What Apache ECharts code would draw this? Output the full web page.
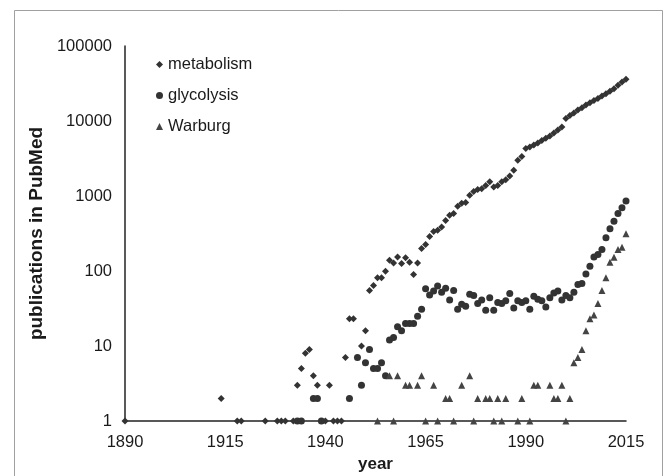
<!DOCTYPE html>
<html>
<head>
<meta charset="utf-8">
<script src="https://cdn.jsdelivr.net/npm/echarts@6/dist/echarts.min.js"></script>
<style>
html,body{margin:0;padding:0;background:#fff;}
#chart{width:663px;height:476px;}
</style>
</head>
<body>
<div id="chart"></div>
<script>
// ---- data ----
const metabolismYears = [1890,1914,1918,1919,1925,1928,1929,1930,1932,1933,1934,1935,1936,1937,1938,1940,1941,1942,1943,1944,1945,1946,1947,1949,1950,
  1951,1952,1953,1954,1955,1956,1957,1958,1959,1960,1961,1962,1963,1964,1965,1966,1967,1968,1969,1970,
  1971,1972,1973,1974,1975,1976,1977,1978,1979,1980,1981,1982,1983,1984,1985,1986,1987,1988,1989,1990,
  1991,1992,1993,1994,1995,1996,1997,1998,1999,2000,2001,2002,2003,2004,2005,2006,2007,2008,2009,2010,
  2011,2012,2013,2014,2015];
const metabolismValues = [1,2,1,1,1,1,1,1,1,3,5,8,9,4,3,1,3,1,1,1,7,23,23,10,16,
  55,64,81,81,99,139,128,154,126,150,131,90,128,199,225,288,335,350,385,470,
  555,585,730,800,820,1020,1150,1220,1250,1380,1550,1320,1380,1550,1650,1850,2200,3000,3350,4300,
  4500,4800,5100,5500,5900,6300,6900,7600,8300,10800,11800,12800,14000,15000,16300,17500,18700,20000,21500,23000,
  25000,27000,30000,33000,36000];

const glycolysisYears = [1933,1934,1937,1938,1939,1946,1948,1949,1950,
  1951,1952,1953,1954,1955,1956,1957,1958,1959,1960,1961,1962,1963,1964,1965,1966,1967,1968,1969,1970,
  1971,1972,1973,1974,1975,1976,1977,1978,1979,1980,1981,1982,1983,1984,1985,1986,1987,1988,1989,1990,
  1991,1992,1993,1994,1995,1996,1997,1998,1999,2000,2001,2002,2003,2004,2005,2006,2007,2008,2009,2010,
  2011,2012,2013,2014,2015];
const glycolysisValues = [1,1,2,2,1,2,7,3,6,
  9,5,5,6,4,12,13,18,16,20,20,20,25,31,58,48,54,63,52,59,
  41,55,31,36,34,49,47,37,41,30,44,30,38,37,40,50,32,40,38,40,
  31,46,42,40,33,44,51,54,41,47,44,52,66,68,91,116,154,166,193,277,
  365,462,585,697,855];

const warburgYears = [1953,1956,1957,1958,1960,1961,1963,1964,1965,1967,1968,1970,1971,1972,1974,1976,1977,1978,1980,1981,
  1982,1983,1984,1985,1988,1989,1991,1992,1993,1996,1997,1998,1999,2000,2001,2002,2003,2004,2005,2006,
  2007,2008,2009,2010,2011,2012,2013,2014,2015];
const warburgValues = [1,4,1,4,3,3,3,4,1,3,1,2,2,1,3,4,1,2,2,2,
  1,2,1,2,1,2,1,3,3,3,2,2,3,1,2,6,7,9,16,23,
  26,37,55,81,131,152,193,207,313];

const xTicksMin = 1890, xTicksMax = 2015, xTickStep = 25;
const yMin = 1, yMax = 100000;

const zip = (xs, ys) => xs.map((x, i) => [x, ys[i]]);

const chart = echarts.init(document.getElementById('chart'), null, {renderer: 'canvas'});
const mark = '#333333';
const font = 'Arial, "Liberation Sans", sans-serif';

chart.setOption({
  animation: false,
  backgroundColor: '#ffffff',
  textStyle: {fontFamily: font},
  graphic: [{
    type: 'rect', left: 12, top: 8, shape: {width: 648, height: 480},
    style: {fill: 'none', stroke: '#a0a0a0', lineWidth: 1}, silent: true
  }],
  grid: {left: 125, right: 37, top: 46, bottom: 55, containLabel: false, outerBoundsMode: 'none'},
  legend: {
    orient: 'vertical', left: 151, top: 51, itemGap: 14,
    itemWidth: 7, itemHeight: 7,
    textStyle: {fontSize: 16.5, color: '#1a1a1a', fontFamily: font},
    data: [
      {name: 'metabolism', icon: 'diamond', itemStyle: {color: mark}},
      {name: 'glycolysis', icon: 'circle', itemStyle: {color: mark}},
      {name: 'Warburg', icon: 'triangle', itemStyle: {color: '#444'}}
    ]
  },
  xAxis: {
    type: 'value', min: xTicksMin, max: xTicksMax, interval: xTickStep,
    name: 'year', nameLocation: 'middle', nameGap: 34,
    nameTextStyle: {fontSize: 17, fontWeight: 'bold', color: '#1a1a1a', fontFamily: font},
    axisLine: {lineStyle: {color: '#222', width: 1.5}},
    axisTick: {show: false},
    splitLine: {show: false},
    axisLabel: {fontSize: 16.5, color: '#1a1a1a', margin: 13, formatter: v => String(Math.round(v))}
  },
  yAxis: {
    type: 'log', logBase: 10, min: yMin, max: yMax,
    name: 'publications in PubMed', nameLocation: 'middle', nameGap: 70, nameRotate: 90,
    nameTextStyle: {fontSize: 19, fontWeight: 'bold', color: '#1a1a1a', fontFamily: font},
    axisLine: {show: true, lineStyle: {color: '#222', width: 1.5}},
    axisTick: {show: false},
    splitLine: {show: false},
    axisLabel: {fontSize: 16.5, color: '#1a1a1a', margin: 13, formatter: v => String(Math.round(v))}
  },
  series: [
    {name: 'metabolism', type: 'scatter', symbol: 'diamond', symbolSize: 7,
     itemStyle: {color: mark, opacity: 1}, data: zip(metabolismYears, metabolismValues)},
    {name: 'glycolysis', type: 'scatter', symbol: 'circle', symbolSize: 7,
     itemStyle: {color: mark, opacity: 1}, data: zip(glycolysisYears, glycolysisValues)},
    {name: 'Warburg', type: 'scatter', symbol: 'triangle', symbolSize: 7,
     itemStyle: {color: '#444', opacity: 1}, data: zip(warburgYears, warburgValues)}
  ]
});
</script>
</body>
</html>
